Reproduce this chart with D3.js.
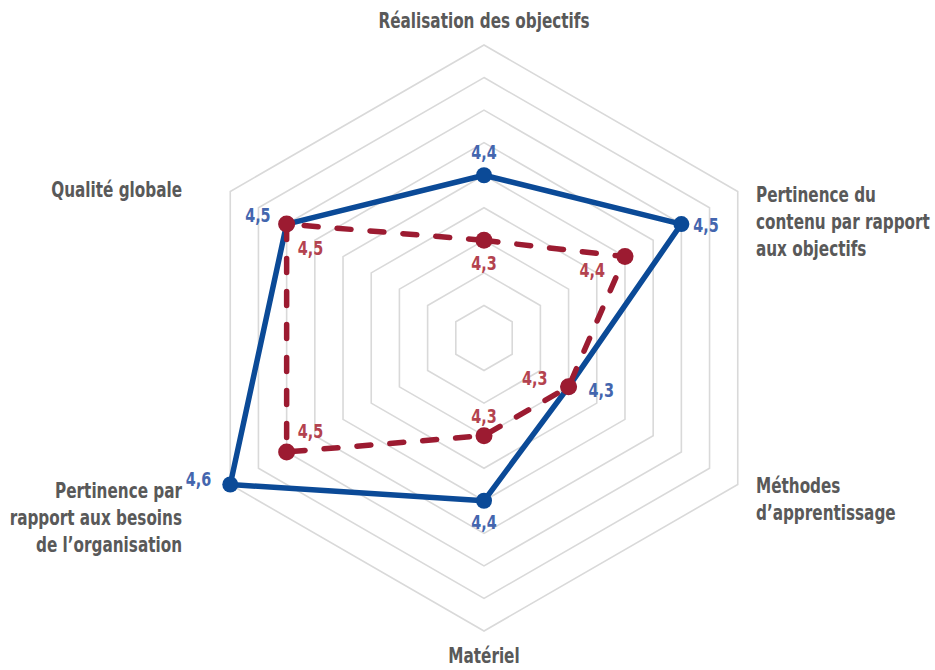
<!DOCTYPE html>
<html>
<head>
<meta charset="utf-8">
<script src="https://cdn.jsdelivr.net/npm/d3@7"></script>
<style>
  html, body { margin: 0; padding: 0; background: #ffffff; }
  svg { display: block; }
  text { font-family: "DejaVu Sans Condensed", "DejaVu Sans", sans-serif; font-weight: bold; }
</style>
</head>
<body>
<svg id="chart" width="935" height="670"></svg>
<script>
// Axis labels, clockwise from the top
const categories = [
  ["Réalisation des objectifs"],
  ["Pertinence du", "contenu par rapport", "aux objectifs"],
  ["Méthodes", "d’apprentissage"],
  ["Matériel"],
  ["Pertinence par", "rapport aux besoins", "de l’organisation"],
  ["Qualité globale"]
];

// Scores for the two series
const seriesBlue = [4.4, 4.5, 4.3, 4.4, 4.6, 4.5];
const seriesRed  = [4.3, 4.4, 4.3, 4.3, 4.5, 4.5];

// Radial axis: minimum, maximum, major unit
const axisMin = 4.15;
const axisMax = 4.6;
const axisStep = 0.05;

const width = 935, height = 670;
const cx = 484, cy = 338, outerR = 293;

// Horizontal squeeze that gives the narrow, condensed lettering
const catSqueeze = 0.77;
const valueSqueeze = 0.8;

const svg = d3.select("#chart");
const fmt = v => d3.format(".1f")(v).replace(".", ",");

const r = d3.scaleLinear().domain([axisMin, axisMax]).range([0, outerR]);
const n = categories.length;
const angle = d3.scaleLinear().domain([0, n]).range([0, 2 * Math.PI]);

const g = svg.append("g").attr("transform", `translate(${cx},${cy})`);

const pointAt = (i, v) => {
  const a = angle(i);
  return [Math.sin(a) * r(v), -Math.cos(a) * r(v)];
};

// Hexagonal grid rings
const ringValues = d3.range(1, Math.round((axisMax - axisMin) / axisStep) + 1)
  .map(k => axisMin + k * axisStep);
const closedLine = d3.line().curve(d3.curveLinearClosed);

g.append("g").selectAll("path")
  .data(ringValues)
  .join("path")
  .attr("d", v => closedLine(d3.range(n).map(i => pointAt(i, v))))
  .attr("fill", "none")
  .attr("stroke", "#d9d9d9")
  .attr("stroke-width", 1.6);

// Series polygons and markers
function drawSeries(values, color, dash, markerR) {
  const pts = values.map((v, i) => pointAt(i, v));
  g.append("path")
    .attr("d", closedLine(pts))
    .attr("fill", "none")
    .attr("stroke", color)
    .attr("stroke-width", 5.5)
    .attr("stroke-linejoin", "round")
    .attr("stroke-linecap", dash ? "round" : "butt")
    .attr("stroke-dasharray", dash || null);
  g.append("g").selectAll("circle")
    .data(pts)
    .join("circle")
    .attr("cx", d => d[0])
    .attr("cy", d => d[1])
    .attr("r", markerR)
    .attr("fill", color);
}
drawSeries(seriesBlue, "#0b4a97", null, 8);
drawSeries(seriesRed, "#9c1b31", "14 19", 8.5);

// Value labels: offset from each marker (dx, dy, anchor)
const blueLabelPlacement = [
  [0, -16, "middle"], [12, 8, "start"], [20, 10, "start"],
  [0, 28, "middle"], [-19, 1, "end"], [-16, -2, "end"]
];
const redLabelPlacement = [
  [0, 30, "middle"], [-20, 20, "end"], [-21, -2, "end"],
  [0, -13, "middle"], [11, -14, "start"], [11, 31, "start"]
];

function drawLabels(values, placement, color) {
  g.append("g").selectAll("text")
    .data(values)
    .join("text")
    .attr("transform", (v, i) => {
      const p = pointAt(i, v);
      return `translate(${p[0] + placement[i][0]},${p[1] + placement[i][1]}) scale(${valueSqueeze},1)`;
    })
    .attr("text-anchor", (v, i) => placement[i][2])
    .attr("font-size", 20)
    .attr("fill", color)
    .text(fmt);
}
drawLabels(seriesBlue, blueLabelPlacement, "#4466ae");
drawLabels(seriesRed, redLabelPlacement, "#b4434f");

// Category labels placed around the outer ring
const catPlacement = [
  { x: 0, y: -310, anchor: "middle" },
  { x: 272, y: -136, anchor: "start" },
  { x: 272, y: 155, anchor: "start" },
  { x: 0, y: 325, anchor: "middle" },
  { x: -302, y: 160, anchor: "end" },
  { x: -302, y: -141, anchor: "end" }
];
const lineGap = 27;

const cat = g.append("g").selectAll("text")
  .data(categories)
  .join("text")
  .attr("transform", (d, i) =>
    `translate(${catPlacement[i].x},${catPlacement[i].y}) scale(${catSqueeze},1)`)
  .attr("text-anchor", (d, i) => catPlacement[i].anchor)
  .attr("font-size", 22)
  .attr("fill", "#595959");
cat.selectAll("tspan")
  .data(d => d)
  .join("tspan")
  .attr("x", 0)
  .attr("dy", (d, j) => j === 0 ? 0 : lineGap)
  .text(d => d);
</script>
</body>
</html>
